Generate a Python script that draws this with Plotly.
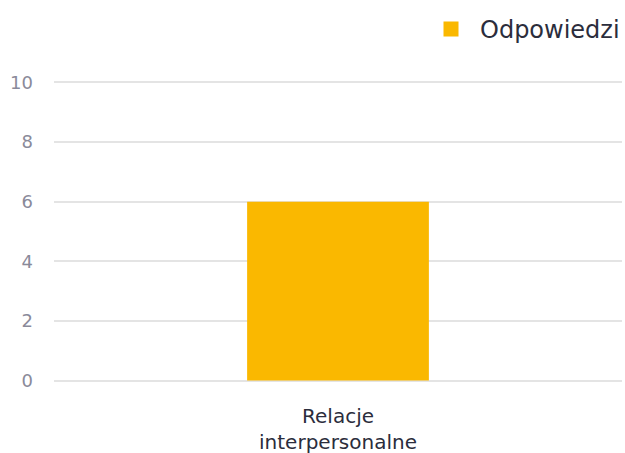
import plotly.graph_objects as go

categories = ["Relacje<br>interpersonalne"]
values = [6]
series_name = "Odpowiedzi"
y_ticks = [0, 2, 4, 6, 8, 10]

BAR_COLOR = "#FAB800"
FONT = "DejaVu Sans, sans-serif"

fig = go.Figure()
fig.add_trace(go.Bar(
    x=categories,
    y=values,
    name=series_name,
    marker=dict(color=BAR_COLOR, line=dict(width=0)),
    width=0.32,
    showlegend=False,
    hoverinfo="skip",
))
# legend entry with a larger square swatch
fig.add_trace(go.Scatter(
    x=[None], y=[None],
    mode="markers",
    name=series_name,
    marker=dict(symbol="square", size=15, color=BAR_COLOR),
    showlegend=True,
))

fig.update_layout(
    width=625,
    height=453,
    margin=dict(l=54, r=3, t=81, b=71, autoexpand=False),
    paper_bgcolor="white",
    plot_bgcolor="white",
    font=dict(family=FONT, color="#2b2d3c"),
    legend=dict(
        orientation="h",
        xref="container", yref="container",
        x=1.0, xanchor="right",
        y=0.985, yanchor="top",
        font=dict(size=24, color="#2b2d3c"),
        itemsizing="trace",
        itemwidth=48,
        bgcolor="rgba(0,0,0,0)",
    ),
    xaxis=dict(
        showgrid=False,
        showline=False,
        zeroline=False,
        automargin=False,
        tickfont=dict(size=20, color="#2b2d3c"),
        ticks="",
        ticklabelstandoff=20,
    ),
    yaxis=dict(
        range=[-0.05, 10.05],
        tickvals=y_ticks,
        showgrid=True,
        gridcolor="#e4e4e4",
        gridwidth=2,
        zeroline=False,
        showline=False,
        automargin=False,
        ticks="",
        ticklabelstandoff=20,
        tickfont=dict(size=18, color="#8a8a9a"),
    ),
)

fig.write_html("out.html")
